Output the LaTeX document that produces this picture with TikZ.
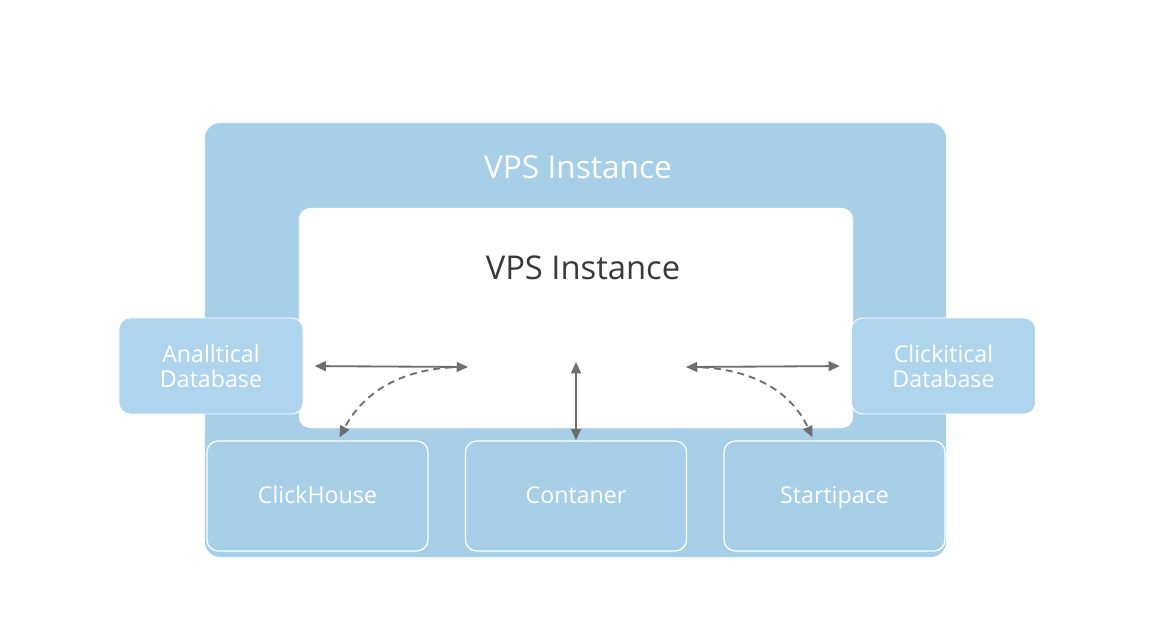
\documentclass[tikz,border=0pt]{standalone}
\usepackage{fontspec}
\setmainfont{Open Sans}
\usepackage{xcolor}
\usetikzlibrary{arrows.meta,calc,positioning}
\definecolor{vpsblue}{HTML}{A7CFE8}
\definecolor{sideblue}{HTML}{AFD5EE}
\definecolor{inktext}{HTML}{3A3A3A}
\definecolor{arrowgray}{HTML}{6E6E6E}

\begin{document}
\begin{tikzpicture}[x=0.025cm, y=-0.025cm, >={Triangle[length=8pt,width=7pt]}]
\tikzset{
  servicebox/.style={draw=white, line width=0.9pt, fill=vpsblue, rounded corners=8pt,
    minimum width=5.525cm, minimum height=2.75cm, text=white, text height=1.05em, text depth=0em,
    font=\fontsize{16.5}{19}\selectfont},
  dbbox/.style={draw=white, line width=0.6pt, fill=sideblue, rounded corners=8pt,
    minimum width=4.6cm, minimum height=2.4cm, text=white, align=center,
    font=\fontsize{16.5}{20}\selectfont},
  link/.style={<->, arrowgray, line width=1.3pt},
  flow/.style={->, arrowgray, line width=1.3pt, dash pattern=on 5pt off 3.5pt}
}
\useasboundingbox (0,0) rectangle (1152,640);

% ---- Outer VPS frame ----
\node[fill=vpsblue, rounded corners=11pt, minimum width=18.525cm, minimum height=10.85cm] (vps) at (575.5,340) {};
\node[text=white, font=\fontsize{22.5}{26}\selectfont] (vpstitle) at (578,167) {VPS Instance};

% ---- Inner white area ----
\node[fill=white, rounded corners=8pt, minimum width=13.85cm, minimum height=5.5cm] (core) at (576,318) {};
\node[text=inktext, font=\fontsize{23.3}{27}\selectfont] (coretitle) at (583,268) {VPS Instance};

% ---- Side databases ----
\node[dbbox] (dbL) at (211,366) {\raisebox{-2pt}{Analltical}\\Database};
\node[dbbox] (dbR) at (943.5,366) {\raisebox{-2pt}{Clickitical}\\Database};

% ---- Bottom services ----
\node[servicebox] (ch) at (317.5,496) {ClickHouse};
\node[servicebox] (ctr) at (576,496) {Contaner};
\node[servicebox] (stp) at (834.5,496) {Startipace};

% Free ends inside the white area
\coordinate (hubL) at (468,367);
\coordinate (hubR) at (686,367);
\coordinate (hubC) at (576,362);

% Horizontal links
\draw[link, shorten <=8pt] (dbL.east) -- (hubL);
\draw[link, shorten >=8pt] (hubR) -- (dbR.west);

% Vertical link
\draw[link] (hubC) -- (ctr.north);

% Dashed flows down to the services
\draw[flow] ($(hubL)+(-4,0)$) to[out=180, in=62] ($(ch.north)+(22,-3)$);
\draw[flow] ($(hubR)+(4,0)$) to[out=0, in=115] ($(stp.north)+(-22,-3)$);

\end{tikzpicture}
\end{document}
